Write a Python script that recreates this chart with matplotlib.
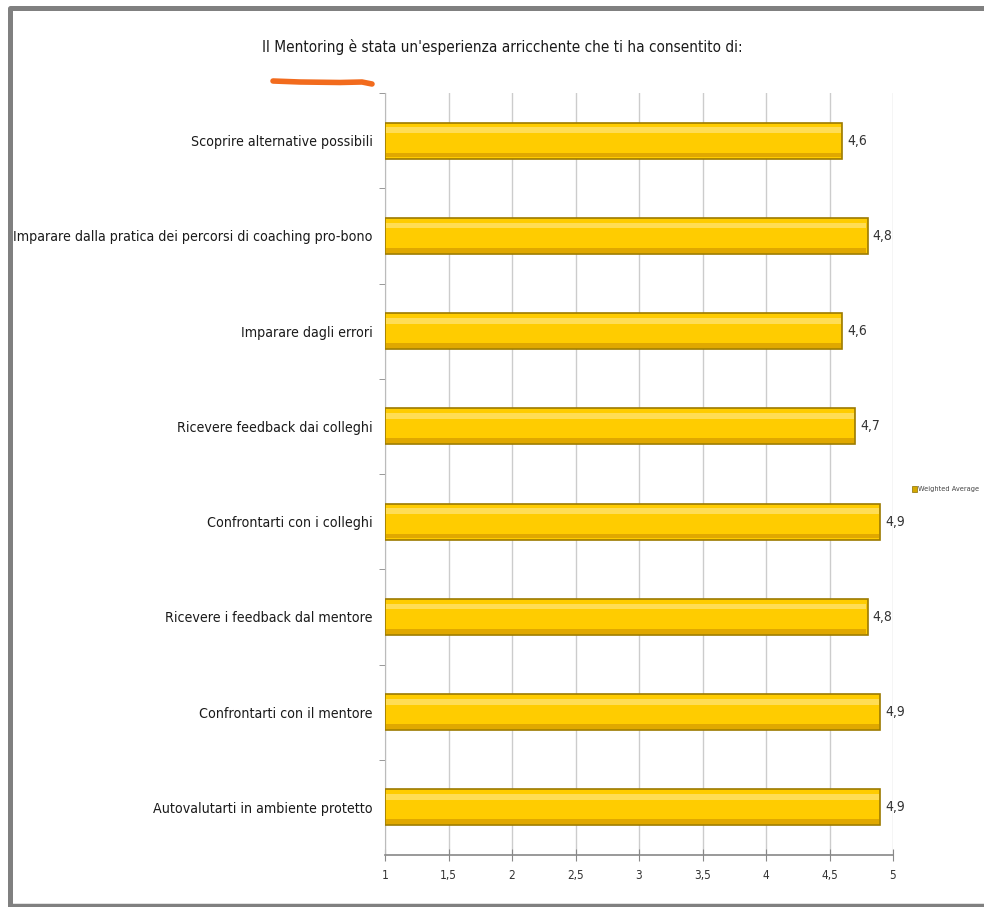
import matplotlib.pyplot as plt
from matplotlib.lines import Line2D
from matplotlib.patches import Rectangle

# --- Dati ---
categorie = [
    "Scoprire alternative possibili",
    "Imparare dalla pratica dei percorsi di coaching pro-bono",
    "Imparare dagli errori",
    "Ricevere feedback dai colleghi",
    "Confrontarti con i colleghi",
    "Ricevere i feedback dal mentore",
    "Confrontarti con il mentore",
    "Autovalutarti in ambiente protetto",
]
valori = [4.6, 4.8, 4.6, 4.7, 4.9, 4.8, 4.9, 4.9]
etichette_x = ["1", "1,5", "2", "2,5", "3", "3,5", "4", "4,5", "5"]
valori_x = [1, 1.5, 2, 2.5, 3, 3.5, 4, 4.5, 5]
titolo = "Il Mentoring è stata un'esperienza arricchente che ti ha consentito di:"
serie = "Weighted Average"

plt.rcParams['font.family'] = ['DejaVu Sans']
plt.rcParams['font.stretch'] = 'condensed'

fig = plt.figure(figsize=(9.84, 9.07), dpi=100)
ax = fig.add_axes([385 / 984, 1 - 855 / 907, 508 / 984, (855 - 93) / 907])

y = list(range(len(categorie)))
ax.barh(y, [v - 1 for v in valori], left=1, height=0.38,
        color='#FFCC00', edgecolor='#9C7A00', linewidth=1.2, zorder=3)
# riflesso chiaro sulla parte alta della barra
ax.barh([i - 0.11 for i in y], [v - 1.02 for v in valori], left=1.01, height=0.06,
        color='#FFDD55', linewidth=0, zorder=4)
# ombra più scura sulla parte bassa
ax.barh([i + 0.15 for i in y], [v - 1.02 for v in valori], left=1.01, height=0.05,
        color='#E0A800', linewidth=0, zorder=4)

for i, v in zip(y, valori):
    ax.text(v + 0.04, i, f"{v:.1f}".replace(".", ","), va='center', ha='left',
            fontsize=10, color='#333333')

ax.set_ylim(len(categorie) - 0.5, -0.5)
ax.set_xlim(1, 5)
ax.set_yticks(y)
ax.set_yticklabels(categorie, fontsize=10.2, color='#1a1a1a')
ax.set_yticks([i + 0.5 for i in y[:-1]] + [-0.5], minor=True)
ax.tick_params(axis='y', which='major', length=0, pad=9)
ax.tick_params(axis='y', which='minor', length=4, color='#888888', direction='out')

ax.set_xticks(valori_x)
ax.set_xticklabels(etichette_x, fontsize=8.5, color='#333333')
ax.tick_params(axis='x', direction='inout', length=8, color='#888888', pad=6)
ax.grid(axis='x', color='#cccccc', linewidth=1, zorder=0)

for s in ['top', 'right']:
    ax.spines[s].set_visible(False)
ax.spines['left'].set_color('#bbbbbb')
ax.spines['bottom'].set_color('#888888')
ax.spines['bottom'].set_linewidth(1.2)

fig.text(502 / 984, 1 - 47 / 907, titolo, ha='center', va='center',
         fontsize=11, color='#1a1a1a')

# legenda
fig.add_artist(Rectangle((912 / 984, 1 - 492 / 907), 5 / 984, 6 / 907,
                         transform=fig.transFigure, facecolor='#D4A800',
                         edgecolor='#8a6d00', linewidth=0.5))
fig.text(918 / 984, 1 - 489 / 907, serie, ha='left', va='center',
         fontsize=5.3, color='#444444')

# cornice grigia
fig.add_artist(Line2D([9.5 / 984, 9.5 / 984, 1.0], [1 - 905 / 907, 1 - 7.5 / 907, 1 - 7.5 / 907],
                      transform=fig.transFigure, color='#808080', linewidth=3.6))
fig.add_artist(Line2D([9.5 / 984, 1.0], [1 - 904.5 / 907, 1 - 904.5 / 907],
                      transform=fig.transFigure, color='#808080', linewidth=2.5))

# sottolineatura arancione
fig.add_artist(Line2D([273 / 984, 300 / 984, 340 / 984, 362 / 984, 372 / 984],
                      [1 - 81 / 907, 1 - 82 / 907, 1 - 82.5 / 907, 1 - 82 / 907, 1 - 84 / 907],
                      transform=fig.transFigure, color='#F26B1D', linewidth=4,
                      solid_capstyle='round'))

fig.savefig("out.png", dpi=100)
